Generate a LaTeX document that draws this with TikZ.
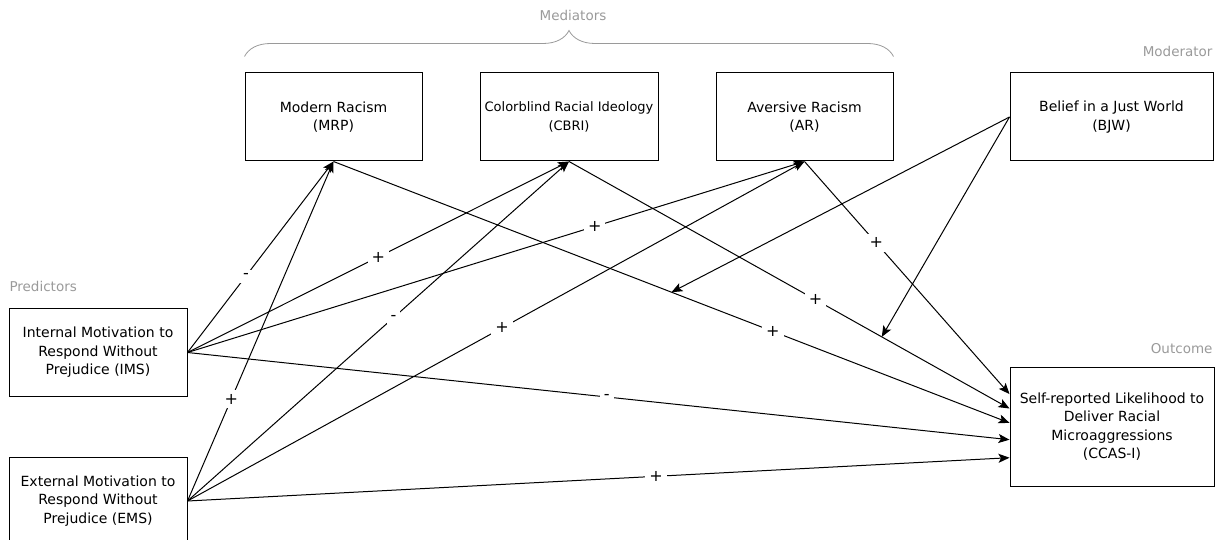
\documentclass[tikz,border=0pt]{standalone}
\usepackage{fontspec}
\setmainfont{DejaVu Sans}
\usepackage{xcolor}
\usepackage{tikz}
\usetikzlibrary{arrows.meta, calc, decorations.pathreplacing}

\definecolor{lblgray}{HTML}{9A9A9A}

\begin{document}
\begin{tikzpicture}[x=1pt, y=-1pt,
    box/.style={draw, line width=1pt, minimum height=88pt, align=center,
        font=\fontsize{14}{18.5}\selectfont},
    path/.style={line width=1pt, -{Stealth[length=11pt, width=9pt, inset=2.5pt]}},
    sign/.style={fill=white, inner sep=4pt, font=\fontsize{16}{16}\selectfont},
    group/.style={lblgray, font=\fontsize{13.5}{15}\selectfont}]
    \useasboundingbox (0, 0) rectangle (1223, 540);

    % Mediatoren
    \node[box, minimum width=177pt] (mrp) at (333.5, 117) {Modern Racism\\(MRP)};
    \node[box, minimum width=178pt, font=\fontsize{13}{18.5}\selectfont] (cbri) at (569, 117)
        {Colorblind Racial Ideology\\(CBRI)};
    \node[box, minimum width=177pt] (ar) at (804.5, 117) {Aversive Racism\\(AR)};

    % Moderator
    \node[box, minimum width=203pt] (bjw) at (1111.5, 117) {Belief in a Just World\\(BJW)};

    % Praediktoren
    \node[box, minimum width=178pt] (ims) at (98, 352.5) {Internal Motivation to\\Respond Without\\Prejudice (IMS)};
    \node[box, minimum width=178pt] (ems) at (98, 501) {External Motivation to\\Respond Without\\Prejudice (EMS)};

    % Outcome
    \node[box, minimum width=204pt, minimum height=119pt] (out) at (1112, 426.5)
        {Self-reported Likelihood to\\Deliver Racial\\Microaggressions\\(CCAS-I)};

    % Gruppenbeschriftungen
    \node[group] (medlbl) at (573, 15) {Mediators};
    \node[group, anchor=east] (modlbl) at (1216, 51) {Moderator};
    \node[group, anchor=west] (prelbl) at (6, 286) {Predictors};
    \node[group, anchor=east] (outlbl) at (1216, 349) {Outcome};
    \draw[lblgray, line width=0.8pt, decorate, decoration={brace, amplitude=26pt}]
        (mrp.north west) ++(0, -16) coordinate (bl) (ar.north east) ++(0, -16) coordinate (br)
        (bl) -- (br);

    % Eingaenge am Outcome
    \foreach \i/\f in {1/0.23, 2/0.35, 3/0.47, 4/0.61, 5/0.76}
        \coordinate (o\i) at ($(out.north west)!\f!(out.south west)$);

    % Praediktoren -> Mediatoren
    \foreach \src/\dst/\p/\sgn in {ims/mrp/0.40/-, ims/cbri/0.50/+, ims/ar/0.66/+,
        ems/mrp/0.30/+, ems/cbri/0.54/-, ems/ar/0.51/+}
        \draw[path] (\src.east) -- node[sign, pos=\p] {\sgn} (\dst.south);

    % Mediatoren -> Outcome
    \foreach \src/\dst/\p/\sgn in {mrp/o3/0.65/+, cbri/o2/0.56/+, ar/o1/0.35/+}
        \draw[path] (\src.south) -- node[sign, pos=\p] {\sgn} (\dst);

    % Praediktoren -> Outcome
    \foreach \src/\dst/\p/\sgn in {ims/o4/0.51/-, ems/o5/0.57/+}
        \draw[path] (\src.east) -- node[sign, pos=\p] {\sgn} (\dst);

    % Moderation
    \coordinate (t1) at ($(mrp.south)!0.5!(o3)$);
    \coordinate (t2) at ($(cbri.south)!0.71!(o2)$);
    \draw[path] (bjw.west) -- (t1);
    \draw[path] (bjw.west) -- (t2);
\end{tikzpicture}
\end{document}
